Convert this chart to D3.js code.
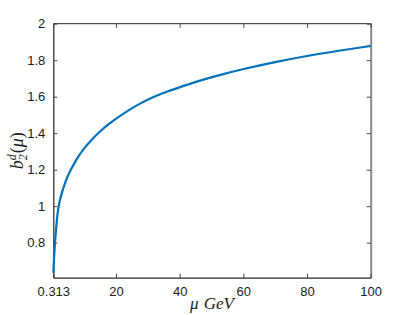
<!DOCTYPE html>
<html>
<head>
<meta charset="utf-8">
<script src="https://cdn.jsdelivr.net/npm/d3@7"></script>
<style>
  html, body { margin: 0; padding: 0; background: #fff; }
  svg { display: block; }
</style>
</head>
<body>
<svg id="chart" width="409" height="315"></svg>
<script>
// Data
const muValues = [0.313, 0.47, 0.75, 1.16, 1.7, 2.3, 3.2, 4.2, 5.5, 7.5, 9.74, 12.5, 15, 17.5, 20, 23.5, 27.5, 31.8, 36, 40, 46, 52.7, 60, 70, 80, 90, 100];
const b2Values = [0.635, 0.69, 0.78, 0.87, 0.975, 1.03, 1.085, 1.14, 1.19, 1.255, 1.313, 1.368, 1.41, 1.447, 1.48, 1.521, 1.563, 1.600, 1.628, 1.652, 1.687, 1.72, 1.752, 1.79, 1.824, 1.852, 1.878];
const xTicks = [0.313, 20, 40, 60, 80, 100];
const xTickLabels = ["0.313", "20", "40", "60", "80", "100"];
const yTicks = [0.8, 1, 1.2, 1.4, 1.6, 1.8, 2];
const yTickLabels = ["0.8", "1", "1.2", "1.4", "1.6", "1.8", "2"];

const svg = d3.select("#chart");
const L = 53.3, R = 370.7, T = 23.7, B = 277.7;

const x = d3.scaleLinear().domain([0.313, 100]).range([L, R]);
const y = d3.scaleLinear().domain([0.608, 2]).range([B, T]);

const tickFont = "'Liberation Sans', Arial, Helvetica, sans-serif";

// box
svg.append("line").attr("x1", L).attr("x2", R).attr("y1", T).attr("y2", T)
  .attr("stroke", "#262626").attr("stroke-width", 1);
svg.append("line").attr("x1", R + 0.5).attr("x2", R + 0.5).attr("y1", T - 0.5).attr("y2", B + 0.5)
  .attr("stroke", "#8a8a8a").attr("stroke-width", 2);

// axes
const xAxis = d3.axisBottom(x).tickValues(xTicks)
  .tickFormat((d, i) => xTickLabels[i]).tickSizeInner(-4).tickSizeOuter(0).tickPadding(9);
const gx = svg.append("g").attr("transform", `translate(0,${B})`).call(xAxis);
const yAxis = d3.axisLeft(y).tickValues(yTicks)
  .tickFormat((d, i) => yTickLabels[i]).tickSizeInner(-4).tickSizeOuter(0).tickPadding(8);
const gy = svg.append("g").attr("transform", `translate(${L},0)`).call(yAxis);

// mirrored ticks on top / right
const xTop = d3.axisTop(x).tickValues(xTicks).tickFormat("").tickSizeInner(-4).tickSizeOuter(0);
const gxt = svg.append("g").attr("transform", `translate(0,${T})`).call(xTop);
gxt.select(".domain").remove();
const yRight = d3.axisRight(y).tickValues(yTicks).tickFormat("").tickSizeInner(-4).tickSizeOuter(0);
const gyr = svg.append("g").attr("transform", `translate(${R},0)`).call(yRight);
gyr.select(".domain").remove();

[gx, gy].forEach(g => {
  g.select(".domain").attr("stroke", "#262626").attr("stroke-width", 1.2);
  g.selectAll("text").attr("font-family", tickFont).attr("font-size", 13).attr("fill", "#1a1a1a");
});
[gx, gy, gxt, gyr].forEach(g => g.selectAll(".tick line").attr("stroke", "#444").attr("stroke-width", 1));

// curve
const line = d3.line()
  .x((d, i) => x(muValues[i]))
  .y((d, i) => y(b2Values[i]))
  .curve(d3.curveBasis);
svg.append("path").datum(b2Values)
  .attr("d", line)
  .attr("fill", "none")
  .attr("stroke", "#0072BD")
  .attr("stroke-width", 2.2);

// labels
const serif = "'Liberation Serif', 'DejaVu Serif', 'Times New Roman', serif";
const xl = svg.append("text")
  .attr("x", (L + R) / 2).attr("y", 309)
  .attr("text-anchor", "middle")
  .attr("font-family", serif).attr("font-size", 17).attr("font-style", "italic")
  .attr("fill", "#1a1a1a");
xl.append("tspan").text("μ");
xl.append("tspan").attr("dx", 5).text("GeV");

const yl = svg.append("text")
  .attr("transform", `translate(23,${(T + B) / 2}) rotate(-90)`)
  .attr("text-anchor", "middle")
  .attr("font-family", serif).attr("font-size", 18).attr("font-style", "italic")
  .attr("fill", "#1a1a1a");
yl.append("tspan").text("b");
yl.append("tspan").attr("font-size", 12).attr("dy", -7).attr("dx", 0).text("d");
yl.append("tspan").attr("font-size", 12).attr("dy", 11).attr("dx", -6).text("2");
yl.append("tspan").attr("dy", -4).attr("dx", 1).attr("font-style", "normal").text("(");
yl.append("tspan").text("μ");
yl.append("tspan").attr("font-style", "normal").text(")");
</script>
</body>
</html>
